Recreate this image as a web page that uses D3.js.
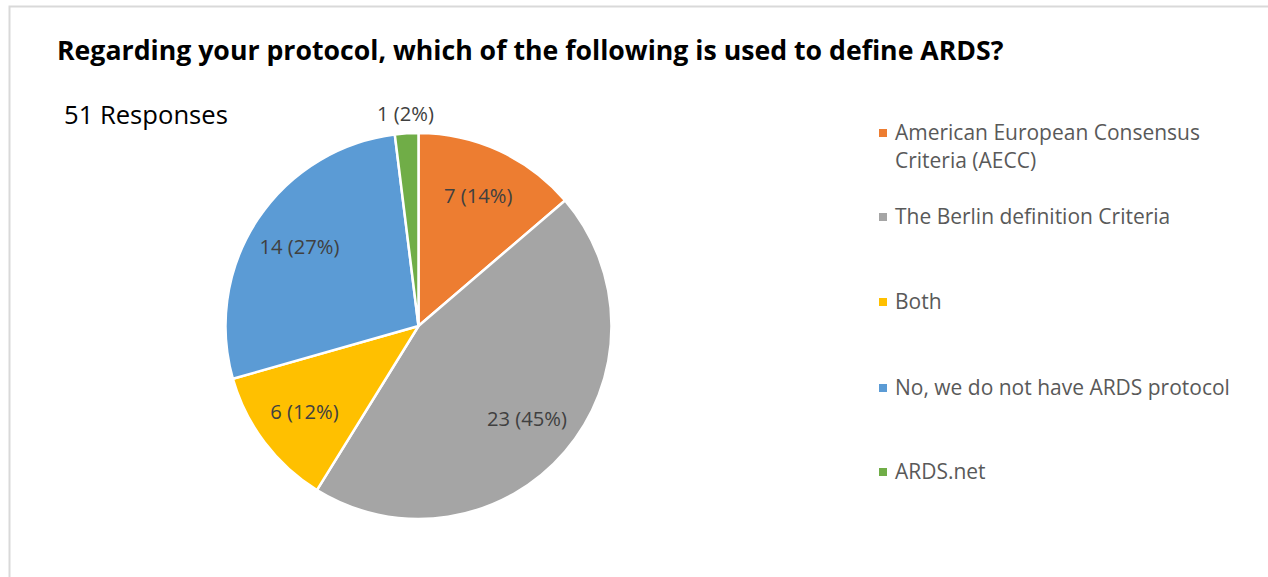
<!DOCTYPE html>
<html lang="en">
<head>
  <meta charset="UTF-8">
  <title>ARDS definition</title>
  <script src="https://d3js.org/d3.v7.min.js"></script>
  <style>
    body { margin: 0; background: #fff; }
    text { font-family: "Open Sans", "DejaVu Sans", sans-serif; }
  </style>
</head>
<body>
  <script>
    // data
    var categories = ["American European Consensus Criteria (AECC)", "The Berlin definition Criteria",
      "Both", "No, we do not have ARDS protocol", "ARDS.net"];
    var legendLines = [["American European Consensus", "Criteria (AECC)"], ["The Berlin definition Criteria"],
      ["Both"], ["No, we do not have ARDS protocol"], ["ARDS.net"]];
    var counts = [7, 23, 6, 14, 1];
    var percents = ["14%", "45%", "12%", "27%", "2%"];
    var colors = ["#ed7d31", "#a5a5a5", "#ffc000", "#5b9bd5", "#70ad47"];

    var width = 1268, height = 577;
    var cx = 418.5, cy = 326, radius = 193;

    var svg = d3.select("body").append("svg")
      .attr("width", width)
      .attr("height", height);

    // chart frame (only top and left edges in view)
    svg.append("rect")
      .attr("x", 9.5).attr("y", 6.5)
      .attr("width", width + 20).attr("height", height + 20)
      .attr("fill", "#fff")
      .attr("stroke", "#d9d9d9")
      .attr("stroke-width", 2);

    // scale font so a text spans the width seen in the picture
    function fitSize(sel, target) {
      var w = sel.node().getComputedTextLength();
      var fs = parseFloat(sel.attr("font-size"));
      return fs * target / w;
    }

    var title = svg.append("text")
      .attr("x", 57).attr("y", 60)
      .attr("font-size", 22)
      .attr("font-weight", "bold")
      .attr("fill", "#000")
      .text("Regarding your protocol, which of the following is used to define ARDS?");
    title.attr("font-size", fitSize(title, 947));

    var resp = svg.append("text")
      .attr("x", 64).attr("y", 124)
      .attr("font-size", 22)
      .attr("fill", "#000")
      .text("51 Responses");
    resp.attr("font-size", fitSize(resp, 164));

    var pie = d3.pie().sort(null).value(function(d) { return d; });
    var arcs = pie(counts);
    var arc = d3.arc().innerRadius(0).outerRadius(radius);
    var labelArc = d3.arc().innerRadius(radius * 0.74).outerRadius(radius * 0.74);
    var outerArc = d3.arc().innerRadius(radius * 1.1).outerRadius(radius * 1.1);

    var g = svg.append("g").attr("transform", "translate(" + cx + "," + cy + ")");

    g.selectAll("path")
      .data(arcs)
      .enter()
      .append("path")
        .attr("d", arc)
        .attr("fill", function(d, i) { return colors[i]; })
        .attr("stroke", "#fff")
        .attr("stroke-width", 2.5)
        .attr("stroke-linejoin", "round");

    var labels = g.selectAll("text.lbl")
      .data(arcs)
      .enter()
      .append("text")
        .attr("class", "lbl")
        .attr("transform", function(d) {
          var c = (d.data < 3 ? outerArc : labelArc).centroid(d);
          return "translate(" + c + ")";
        })
        .attr("text-anchor", "middle")
        .attr("dy", "0.35em")
        .attr("font-size", 17)
        .attr("fill", "#404040")
        .text(function(d, i) { return counts[i] + " (" + percents[i] + ")"; });
    var labelSize = fitSize(labels.filter(function(d, i) { return i === 1; }), 80);
    labels.attr("font-size", labelSize);

    // legend
    var legendY = [133, 217, 302, 388, 472];
    var legend = svg.append("g");
    legendLines.forEach(function(lines, i) {
      legend.append("rect")
        .attr("x", 879).attr("y", legendY[i] - 4)
        .attr("width", 8).attr("height", 8)
        .attr("fill", colors[i]);
      lines.forEach(function(line, j) {
        legend.append("text")
          .attr("class", "leg")
          .attr("x", 895).attr("y", legendY[i] + j * 28)
          .attr("dy", "0.35em")
          .attr("font-size", 17)
          .attr("fill", "#595959")
          .text(line);
      });
    });
    var legTexts = legend.selectAll("text.leg");
    var legSize = fitSize(legTexts.filter(function() {
      return this.textContent === "No, we do not have ARDS protocol";
    }), 335);
    legTexts.attr("font-size", legSize);
  </script>
</body>
</html>
